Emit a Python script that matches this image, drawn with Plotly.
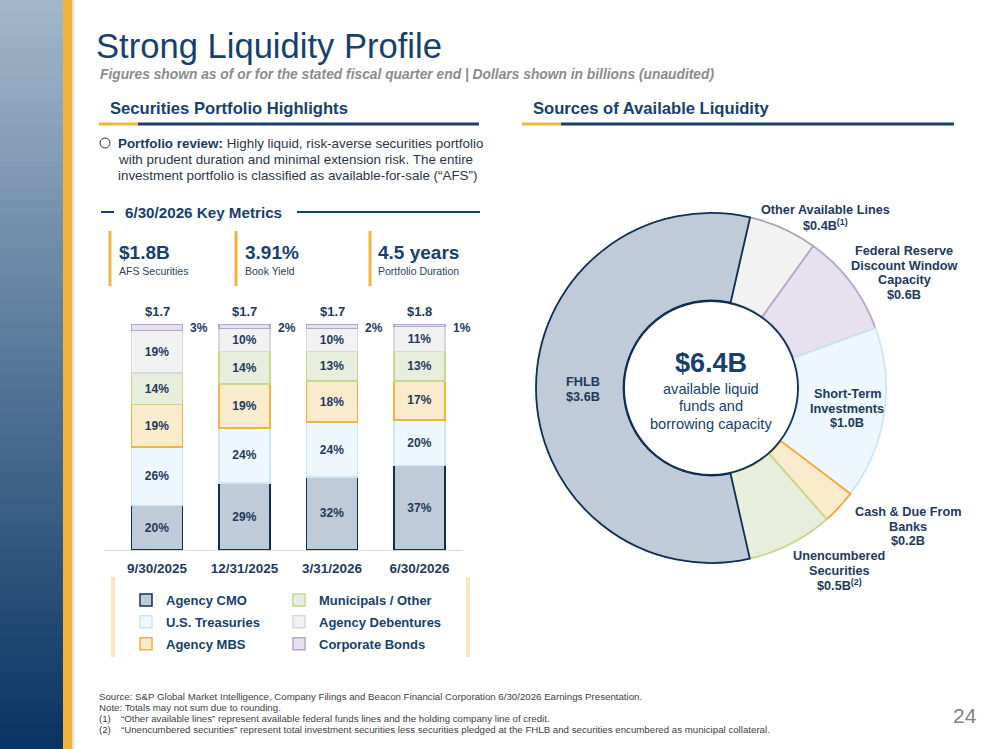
import plotly.graph_objects as go

W, H = 999, 749
NAVY = "#17406e"
DARK = "#0f2f55"
TEXT = "#1e3a5c"
FONT = "Liberation Sans, Arial, sans-serif"

# Securities portfolio mix (% of portfolio)
dates = ["9/30/2025", "12/31/2025", "3/31/2026", "6/30/2026"]
totals = [1.7, 1.7, 1.7, 1.8]
agency_cmo = [20, 29, 32, 37]
us_treasuries = [26, 24, 24, 20]
agency_mbs = [19, 19, 18, 17]
municipals = [14, 14, 13, 13]
agency_debentures = [19, 10, 10, 11]
corporate_bonds = [3, 2, 2, 1]

# Sources of available liquidity ($B)
liq_names = ["Other Available Lines", "Federal Reserve Discount Window Capacity",
             "Short-Term Investments", "Cash & Due From Banks",
             "Unencumbered Securities", "FHLB"]
liq_labels = ["Other Available Lines", "Federal Reserve<br>Discount Window<br>Capacity",
              "Short-Term<br>Investments", "Cash & Due From<br>Banks",
              "Unencumbered<br>Securities", "FHLB"]
liq_notes = ["(1)", "", "", "", "(2)", ""]
liq_values = [0.4, 0.6, 1.0, 0.2, 0.5, 3.6]
liq_total = 6.4


def px(x):
    return x / W


def py(y):
    return 1 - y / H


fig = go.Figure()

series = [
    ("Agency CMO", agency_cmo, "#bfcbd9", DARK, "legend"),
    ("U.S. Treasuries", us_treasuries, "#eef7fd", "#c9e7f5", "legend"),
    ("Agency MBS", agency_mbs, "#fbebcd", "#f0b540", "legend"),
    ("Municipals / Other", municipals, "#e7eedb", "#c6d98c", "legend2"),
    ("Agency Debentures", agency_debentures, "#f2f2f2", "#d9d9d9", "legend2"),
    ("Corporate Bonds", corporate_bonds, "#e7e1ef", "#b4a7c9", "legend2"),
]
for name, vals, fill, edge, leg in series:
    # the thin corporate strip is labelled beside the bar instead
    inside = name != "Corporate Bonds"
    fig.add_trace(go.Bar(
        x=dates, y=vals, name=name, legend=leg, legendgroup=name,
        marker=dict(color=fill, line=dict(color=edge, width=1.5)),
        text=[f"{v}%" for v in vals], textposition="inside" if inside else "none",
        insidetextanchor="middle", constraintext="none",
        textfont=dict(family=FONT, size=12, color=TEXT, weight="bold"),
        hoverinfo="skip",
    ))

pie_edges = ["#a6a6a6", "#b4a7c9", "#c9e7f5", "#f0a830", "#c6d98c", DARK]
pie_fills = ["#f2f2f2", "#e7e1ef", "#eef7fd", "#fbebcd", "#e7eedb", "#bfcbd9"]
cx, cy, r = 711, 388, 175
fig.add_trace(go.Pie(
    labels=liq_names, values=liq_values, sort=False, direction="clockwise",
    rotation=12.9, hole=0.5, textinfo="none", showlegend=False,
    marker=dict(colors=pie_fills, line=dict(color=pie_edges, width=1.8)),
    domain=dict(x=[px(cx - r), px(cx + r)], y=[py(cy + r), py(cy - r)]),
    hoverinfo="skip",
))

shapes = []
# sidebar gradient
top, bot = (163, 182, 201), (10, 52, 99)
n = 60
for i in range(n):
    t = i / (n - 1)
    c = tuple(round(top[k] + (bot[k] - top[k]) * t) for k in range(3))
    shapes.append(dict(type="rect", xref="paper", yref="paper", x0=0, x1=px(63),
                       y0=py(H * (i + 1) / n + 2), y1=py(H * i / n),
                       fillcolor=f"rgb{c}", line=dict(width=0), layer="below"))
shapes.append(dict(type="rect", xref="paper", yref="paper", x0=px(63), x1=px(72),
                   y0=0, y1=1, fillcolor="#f0b63c", line=dict(width=0)))
for i, c in enumerate(["#d8d8d8", "#e6e6e6", "#f1f1f1", "#f9f9f9"]):
    shapes.append(dict(type="rect", xref="paper", yref="paper", x0=px(72 + i), x1=px(73.5 + i),
                       y0=0, y1=1, fillcolor=c, line=dict(width=0)))


def hline(x0, x1, y, color, width):
    shapes.append(dict(type="line", xref="paper", yref="paper", x0=px(x0), x1=px(x1),
                       y0=py(y), y1=py(y), line=dict(color=color, width=width)))


def vline(x, y0, y1, color, width):
    shapes.append(dict(type="line", xref="paper", yref="paper", x0=px(x), x1=px(x),
                       y0=py(y0), y1=py(y1), line=dict(color=color, width=width)))


hline(99, 138, 124, "#f0b63c", 3)
hline(138, 479, 124, NAVY, 3)
hline(522, 561, 124, "#f0b63c", 3)
hline(561, 954, 124, NAVY, 3)
hline(101, 114, 212, NAVY, 2)
hline(297, 480, 212, NAVY, 2)
for x in [110, 236, 370]:
    vline(x, 231, 286, "#f0b63c", 3)
vline(113, 577, 657, "#fde6bf", 4)
vline(468, 577, 657, "#fde6bf", 4)
shapes.append(dict(type="circle", xref="paper", yref="paper",
                   x0=px(105 - 5), x1=px(105 + 5), y0=py(143 + 5), y1=py(143 - 5),
                   line=dict(color="#333333", width=1)))
shapes.append(dict(type="circle", xref="paper", yref="paper",
                   x0=px(cx - 87), x1=px(cx + 87), y0=py(cy + 87), y1=py(cy - 87),
                   line=dict(color=DARK, width=1.8)))

ann = []


def note(x, y, text, size, color=NAVY, xanchor="left"):
    ann.append(dict(xref="paper", yref="paper", x=px(x), y=py(y), text=text,
                    showarrow=False, xanchor=xanchor, yanchor="middle",
                    font=dict(family=FONT, size=size, color=color)))


def lines(x, y, gap, rows, size, color=NAVY, xanchor="left"):
    for k, row in enumerate(rows):
        note(x, y + k * gap, row, size, color, xanchor)


note(94, 46, "Strong Liquidity Profile", 34.6, NAVY)
note(98, 75, "<b><i>Figures shown as of or for the stated fiscal quarter end | "
     "Dollars shown in billions (unaudited)</i></b>", 13.8, "#8c8c8c")
note(108, 109, "<b>Securities Portfolio Highlights</b>", 16.6, NAVY)
note(531, 109, "<b>Sources of Available Liquidity</b>", 16.6, NAVY)
lines(116, 143, 16, [
    "<b><span style='color:#1b3a60'>Portfolio review:</span></b> Highly liquid, "
    "risk-averse securities portfolio",
    "with prudent duration and minimal extension risk. The entire",
    "investment portfolio is classified as available-for-sale (“AFS”)"], 13.4, "#2a3646")
note(123, 212, "<b>6/30/2026 Key Metrics</b>", 15.2, NAVY)
for x, v, lab in [(117, "$1.8B", "AFS Securities"), (243, "3.91%", "Book Yield"),
                  (376, "4.5 years", "Portfolio Duration")]:
    note(x, 252, f"<b>{v}</b>", 19, NAVY)
    note(x, 271, lab, 10.5, "#2a3f5a")

for d, t, c in zip(dates, totals, corporate_bonds):
    ann.append(dict(xref="x", yref="y", x=d, y=100, yanchor="bottom", yshift=3,
                    text=f"<b>${t:.1f}</b>", showarrow=False,
                    font=dict(family=FONT, size=13, color=TEXT)))
    ann.append(dict(xref="x", yref="y", x=d, y=100, yanchor="middle", yshift=-4,
                    xshift=42, text=f"<b>{c}%</b>", showarrow=False,
                    font=dict(family=FONT, size=12, color=TEXT)))

# donut labels
label_pos = [(825, 210), (904, 251), (847, 394), (908, 512), (839, 556), (583, 382)]
for (x, y), lab, v, sup in zip(label_pos, liq_labels, liq_values, liq_notes):
    s = f"<sup>{sup}</sup>" if sup else ""
    rows = [f"<b>{p}</b>" for p in lab.split("<br>")] + [f"<b>${v:.1f}B{s}</b>"]
    lines(x, y, 14.5, rows, 12.7, TEXT, "center")
note(cx, 363, f"<b>${liq_total:.1f}B</b>", 27, NAVY, "center")
lines(cx, 389, 17.5, ["available liquid", "funds and", "borrowing capacity"], 14.6, NAVY, "center")

foot = "#404040"
fs = 9.7
lines(97, 696, 11.3, [
    "Source: S&P Global Market Intelligence, Company Filings and Beacon Financial "
    "Corporation 6/30/2026 Earnings Presentation.",
    "Note: Totals may not sum due to rounding.", "(1)", "(2)"], fs, foot)
lines(119, 718.6, 11.3, [
    "“Other available lines” represent available federal funds lines and the "
    "holding company line of credit.",
    "“Unencumbered securities” represent total investment securities less securities "
    "pledged at the FHLB and securities encumbered as municipal collateral."], fs, foot)
note(965, 715, "24", 21, "#7f7f7f", "center")

legend_style = dict(xanchor="left", yanchor="top", traceorder="grouped",
                    bgcolor="rgba(0,0,0,0)", tracegroupgap=2, itemclick=False,
                    font=dict(family=FONT, size=13, color=NAVY, weight="bold"))

fig.update_layout(
    width=W, height=H, margin=dict(l=0, r=0, t=0, b=0),
    paper_bgcolor="white", plot_bgcolor="white",
    barmode="stack", barnorm="percent", bargap=0.417,
    xaxis=dict(domain=[px(104), px(463)], range=[-0.606, 3.497], type="category",
               showline=True, linecolor="#d9d9d9", linewidth=1, showgrid=False,
               ticks="", fixedrange=True, ticklabelstandoff=6,
               tickfont=dict(family=FONT, size=13.5, color=TEXT, weight="bold")),
    yaxis=dict(domain=[py(550), py(324)], range=[0, 100], visible=False, fixedrange=True),
    legend=dict(x=px(126), y=py(585), **legend_style),
    legend2=dict(x=px(279), y=py(585), **legend_style),
    shapes=shapes, annotations=ann,
    font=dict(family=FONT),
)

# drop the default page margin so the figure sits at the window origin
fig.write_html("out.html", config={"displayModeBar": False},
               post_script="document.body.style.margin='0px';")
